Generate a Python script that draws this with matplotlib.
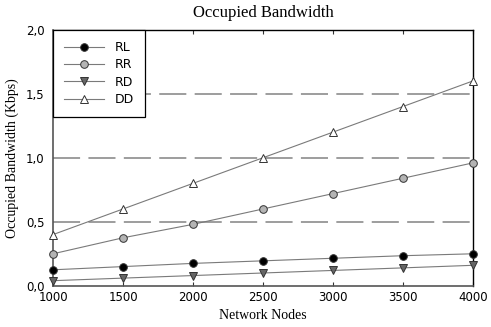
import matplotlib
matplotlib.use("Agg")
import matplotlib.pyplot as plt
from matplotlib.ticker import FuncFormatter

nodes = [1000, 1500, 2000, 2500, 3000, 3500, 4000]
rl = [0.125, 0.15, 0.175, 0.195, 0.215, 0.235, 0.25]
rr = [0.25, 0.375, 0.48, 0.6, 0.72, 0.84, 0.96]
rd = [0.04, 0.06, 0.08, 0.10, 0.12, 0.14, 0.16]
dd = [0.4, 0.6, 0.8, 1.0, 1.2, 1.4, 1.6]
grid_levels = [0.5, 1.0, 1.5]
y_ticks = [0.0, 0.5, 1.0, 1.5, 2.0]

fig = plt.figure(figsize=(4.91, 3.27), dpi=100)
ax = fig.add_axes([0.108, 0.126, 0.855, 0.783])

lw_grid = 1.2
for g in grid_levels:
    ax.axhline(g, color="#8c8c8c", lw=lw_grid, dashes=(19.5 / lw_grid, 6.0 / lw_grid), zorder=1)

line_kw = dict(color="#7a7a7a", lw=0.8, markersize=5.5, markeredgecolor="#333333",
               markeredgewidth=0.7, zorder=3, clip_on=False)
ax.plot(nodes, rl, marker="o", markerfacecolor="black", label="RL", **line_kw)
ax.plot(nodes, rr, marker="o", markerfacecolor="#b4b4b4", label="RR", **line_kw)
ax.plot(nodes, rd, marker="v", markerfacecolor="#666666", label="RD", **line_kw)
ax.plot(nodes, dd, marker="^", markerfacecolor="white", label="DD", **line_kw)

ax.set_xlim(1000, 4000)
ax.set_ylim(0, 2.0)
ax.set_xticks(nodes)
ax.set_yticks(y_ticks)
ax.yaxis.set_major_formatter(FuncFormatter(lambda v, p: f"{v:.1f}".replace(".", ",")))
ax.tick_params(axis="x", direction="in", top=True, length=3, labelsize=8.5, pad=4, color="#333333")
ax.tick_params(axis="y", direction="in", length=0, labelsize=8.5, pad=6)

for s in ["left", "bottom"]:
    ax.spines[s].set_color("#555555")
    ax.spines[s].set_linewidth(1.2)
for s in ["top", "right"]:
    ax.spines[s].set_color("black")
    ax.spines[s].set_linewidth(1.0)

serif = ["Liberation Serif", "DejaVu Serif"]
ax.set_title("Occupied Bandwidth", fontsize=12, family=serif, pad=9)
ax.set_xlabel("Network Nodes", fontsize=10, family=serif, labelpad=3)
ax.set_ylabel("Occupied Bandwidth (Kbps)", fontsize=10, family=serif, labelpad=5)

leg = ax.legend(loc="upper left", bbox_to_anchor=(0.0, 1.0), frameon=True, fancybox=False,
                edgecolor="black", framealpha=1, fontsize=9, handlelength=3.2,
                borderpad=0.9, labelspacing=0.35, borderaxespad=0)
leg.get_frame().set_linewidth(0.9)

fig.savefig("out.png", dpi=100)
